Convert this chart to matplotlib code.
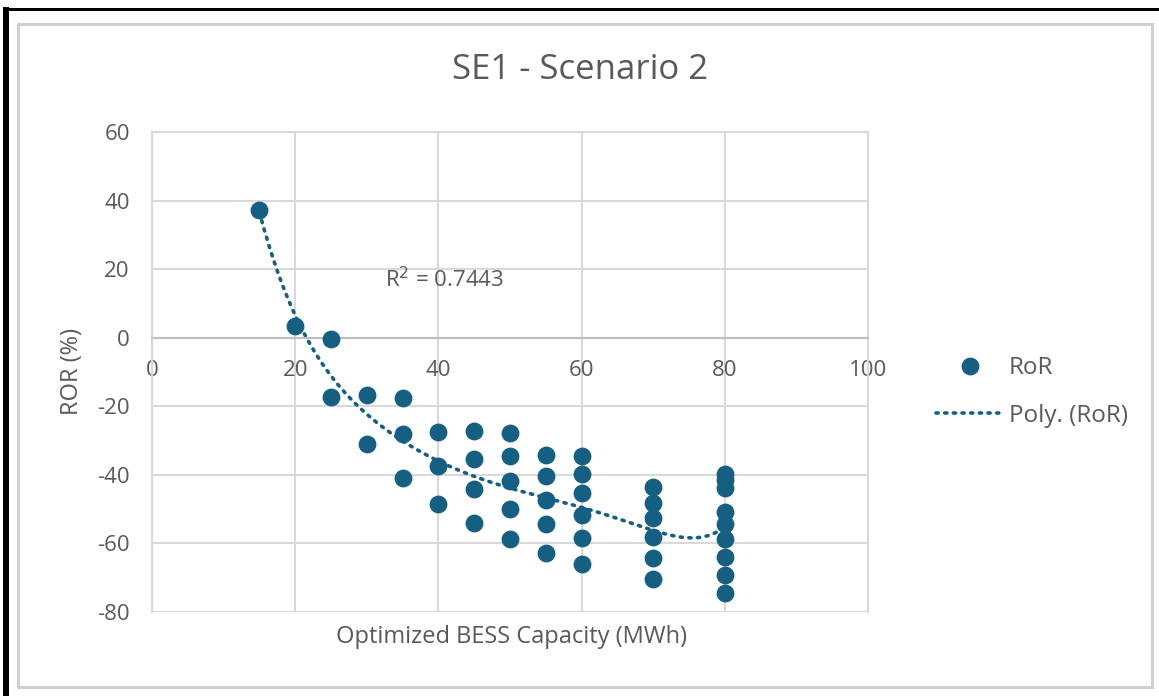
import numpy as np
import matplotlib
matplotlib.use("Agg")
from matplotlib import pyplot as plt
from matplotlib.patches import Rectangle
from matplotlib.lines import Line2D

# BESS capacity (MWh) vs rate of return (%)
capacity = [15, 20, 25, 25, 30, 30, 35, 35, 35,
            40, 40, 40, 45, 45, 45, 45,
            50, 50, 50, 50, 50, 55, 55, 55, 55, 55,
            60, 60, 60, 60, 60, 60,
            70, 70, 70, 70, 70, 70,
            80, 80, 80, 80, 80, 80, 80, 80, 80]
ror = [37.3, 3.5, -0.3, -17.3, -16.8, -31.1, -17.7, -28.2, -40.9,
       -27.6, -37.3, -48.5, -27.2, -35.5, -44.1, -54.0,
       -27.9, -34.6, -41.8, -50.1, -58.8, -34.2, -40.2, -47.3, -54.4, -62.8,
       -34.6, -39.8, -45.4, -51.7, -58.4, -65.9,
       -43.5, -48.1, -52.6, -58.1, -64.2, -70.5,
       -39.8, -41.5, -43.9, -50.7, -54.2, -58.7, -64.1, -69.2, -74.5]
poly_order = 6
r_squared = "0.7443"

x_ticks = [0, 20, 40, 60, 80, 100]
y_ticks = [-80, -60, -40, -20, 0, 20, 40, 60]

blue = "#156082"
grid = "#d9d9d9"
text_grey = "#595959"
plt.rcParams["font.family"] = ["Open Sans", "DejaVu Sans"]
plt.rcParams["axes.unicode_minus"] = False

fig = plt.figure(figsize=(11.59, 6.96), dpi=100)

# screenshot frame: black edge top/left, light chart border inside
fig.patches.append(Rectangle((0.003, 0.0), 0.0045, 0.99, transform=fig.transFigure,
                             color="black", lw=0))
fig.patches.append(Rectangle((0.003, 0.984), 1.0, 0.0045, transform=fig.transFigure,
                             color="black", lw=0))
fig.patches.append(Rectangle((18 / 1159, 1 - 687 / 696), (1152 - 18) / 1159,
                             (687 - 24) / 696, transform=fig.transFigure,
                             fill=False, ec="#d0d0d0", lw=2.2))

ax = fig.add_axes([152 / 1159, 1 - 612 / 696, 716 / 1159, 480 / 696])
ax.set_xlim(0, 100)
ax.set_ylim(-80, 60)
ax.set_xticks(x_ticks)
ax.set_yticks(y_ticks)
ax.grid(True, color=grid, lw=1.5)
ax.set_axisbelow(True)
for side in ["top", "right", "left"]:
    ax.spines[side].set_color(grid)
    ax.spines[side].set_linewidth(1.5)
ax.spines["bottom"].set_position(("data", 0))
ax.spines["bottom"].set_color("#bfbfbf")
ax.spines["bottom"].set_linewidth(1.5)
ax.tick_params(length=0, labelsize=16, labelcolor=text_grey)
ax.tick_params(axis="x", pad=16)
ax.tick_params(axis="y", pad=16)

x = np.array(capacity, float)
y = np.array(ror, float)
ax.scatter(x, y, s=140, color=blue, zorder=3, label="RoR")

coef = np.polyfit(x, y, poly_order)
xs = np.linspace(x.min(), x.max(), 300)
ax.plot(xs, np.polyval(coef, xs), color=blue, lw=2.6, ls=(0, (0.6, 1.8)),
        dash_capstyle="round", zorder=2, label="Poly. (RoR)")

ax.text(32.5, 17, "R$^2$ = " + r_squared, fontsize=16, color=text_grey,
        ha="left", va="center")

fig.text(580 / 1159, 1 - 70 / 696, "SE1 - Scenario 2", fontsize=25,
         color=text_grey, ha="center", va="center")
fig.text(512 / 1159, 1 - 637 / 696, "Optimized BESS Capacity (MWh)",
         fontsize=17, color=text_grey, ha="center", va="center")
fig.text(72 / 1159, 1 - 372 / 696, "ROR (%)", fontsize=17,
         color=text_grey, ha="center", va="center", rotation=90)

handles = [
    Line2D([], [], ls="none", marker="o", ms=11.8, color=blue),
    Line2D([], [], color=blue, lw=2.6, ls=(0, (0.6, 1.8)),
           dash_capstyle="round"),
]
fig.legend(handles, ["RoR", "Poly. (RoR)"], loc="center left",
           bbox_to_anchor=(914 / 1159, 1 - 392 / 696), frameon=False,
           fontsize=17.5, labelcolor=text_grey, handlelength=2.8,
           handletextpad=0.2, labelspacing=0.95)

fig.savefig("out.png", dpi=100)
